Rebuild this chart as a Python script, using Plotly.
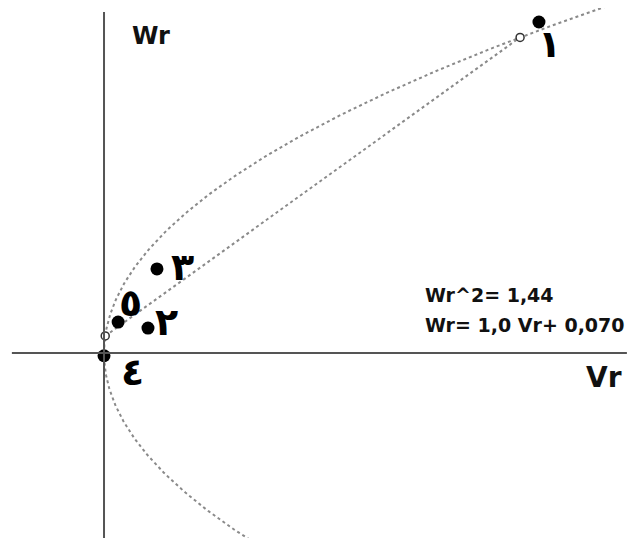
import numpy as np
import plotly.graph_objects as go

# Fitted relations shown in the figure
parab_coef = 1.44          # Wr^2 = 1.44 Vr
line_slope = 1.0           # Wr = 1.0 Vr + 0.070
line_icpt = 0.070

# Observed points (Vr, Wr) and their labels
pt_vr = [1.355, 0.137, 0.165, 0.0, 0.044]
pt_wr = [1.433, 0.108, 0.364, -0.012, 0.134]
pt_labels = ["١", "٢", "٣", "٤", "٥"]

# Parabola sample range along Wr
wr_curve = np.linspace(-0.85, 1.52, 300)
vr_curve = wr_curve ** 2 / parab_coef

# Intersections of line and parabola
a, b, c = line_slope ** 2, 2 * line_slope * line_icpt - parab_coef, line_icpt ** 2
disc = np.sqrt(b * b - 4 * a * c)
vi = np.array([(-b - disc) / (2 * a), (-b + disc) / (2 * a)])
wi = line_slope * vi + line_icpt

fig = go.Figure()
fig.add_trace(go.Scatter(x=vr_curve, y=wr_curve, mode="lines",
                         line=dict(color="#8a8a8a", width=2, dash="dot"),
                         hoverinfo="skip", showlegend=False))
fig.add_trace(go.Scatter(x=vi, y=wi, mode="lines",
                         line=dict(color="#8a8a8a", width=2, dash="dot"),
                         hoverinfo="skip", showlegend=False))

# axes lines
fig.add_shape(type="line", x0=-0.287, x1=1.629, y0=0, y1=0,
              line=dict(color="#555555", width=2))
fig.add_shape(type="line", x0=0, x1=0, y0=-0.85, y1=1.476,
              line=dict(color="#555555", width=2))

fig.add_trace(go.Scatter(x=vi, y=wi, mode="markers",
                         marker=dict(size=8, color="white",
                                     line=dict(color="#333333", width=1.5)),
                         showlegend=False))
fig.add_trace(go.Scatter(x=pt_vr, y=pt_wr, mode="markers",
                         marker=dict(size=13, color="black"),
                         showlegend=False))

# point labels (pixel offsets)
label_shift = [(11, -22), (19, 6), (26, 2), (28, -16), (12, 19)]
for vx, wy, lab, (dx, dy) in zip(pt_vr, pt_wr, pt_labels, label_shift):
    fig.add_annotation(x=vx, y=wy, text="<b>" + lab + "</b>", showarrow=False,
                       xshift=dx, yshift=dy,
                       font=dict(family="DejaVu Sans", size=38, color="black"))

lab_font = "DejaVu Sans"
fig.add_annotation(x=0.082, y=1.372, text="<b>Wr</b>", showarrow=False,
                   xanchor="left", font=dict(family=lab_font, size=24, color="#111111"))
fig.add_annotation(x=1.495, y=-0.105, text="<b>Vr</b>", showarrow=False,
                   xanchor="left", font=dict(family=lab_font, size=28, color="#111111"))
fig.add_annotation(x=0.994, y=0.25, text="<b>Wr^2= 1,44</b>", showarrow=False,
                   xanchor="left", font=dict(family=lab_font, size=19, color="#111111"))
fig.add_annotation(x=0.994, y=0.122, text="<b>Wr= 1,0 Vr+ 0,070</b>", showarrow=False,
                   xanchor="left", font=dict(family=lab_font, size=19, color="#111111"))

# page places the figure 8px in from the top-left; ranges compensate for it
fig.update_layout(width=637, height=538, margin=dict(l=0, r=0, t=0, b=0),
                  paper_bgcolor="white", plot_bgcolor="white",
                  xaxis=dict(range=[-0.2991, 1.6854], visible=False),
                  yaxis=dict(range=[-0.8355, 1.4935], visible=False))
fig.write_html("out.html")
